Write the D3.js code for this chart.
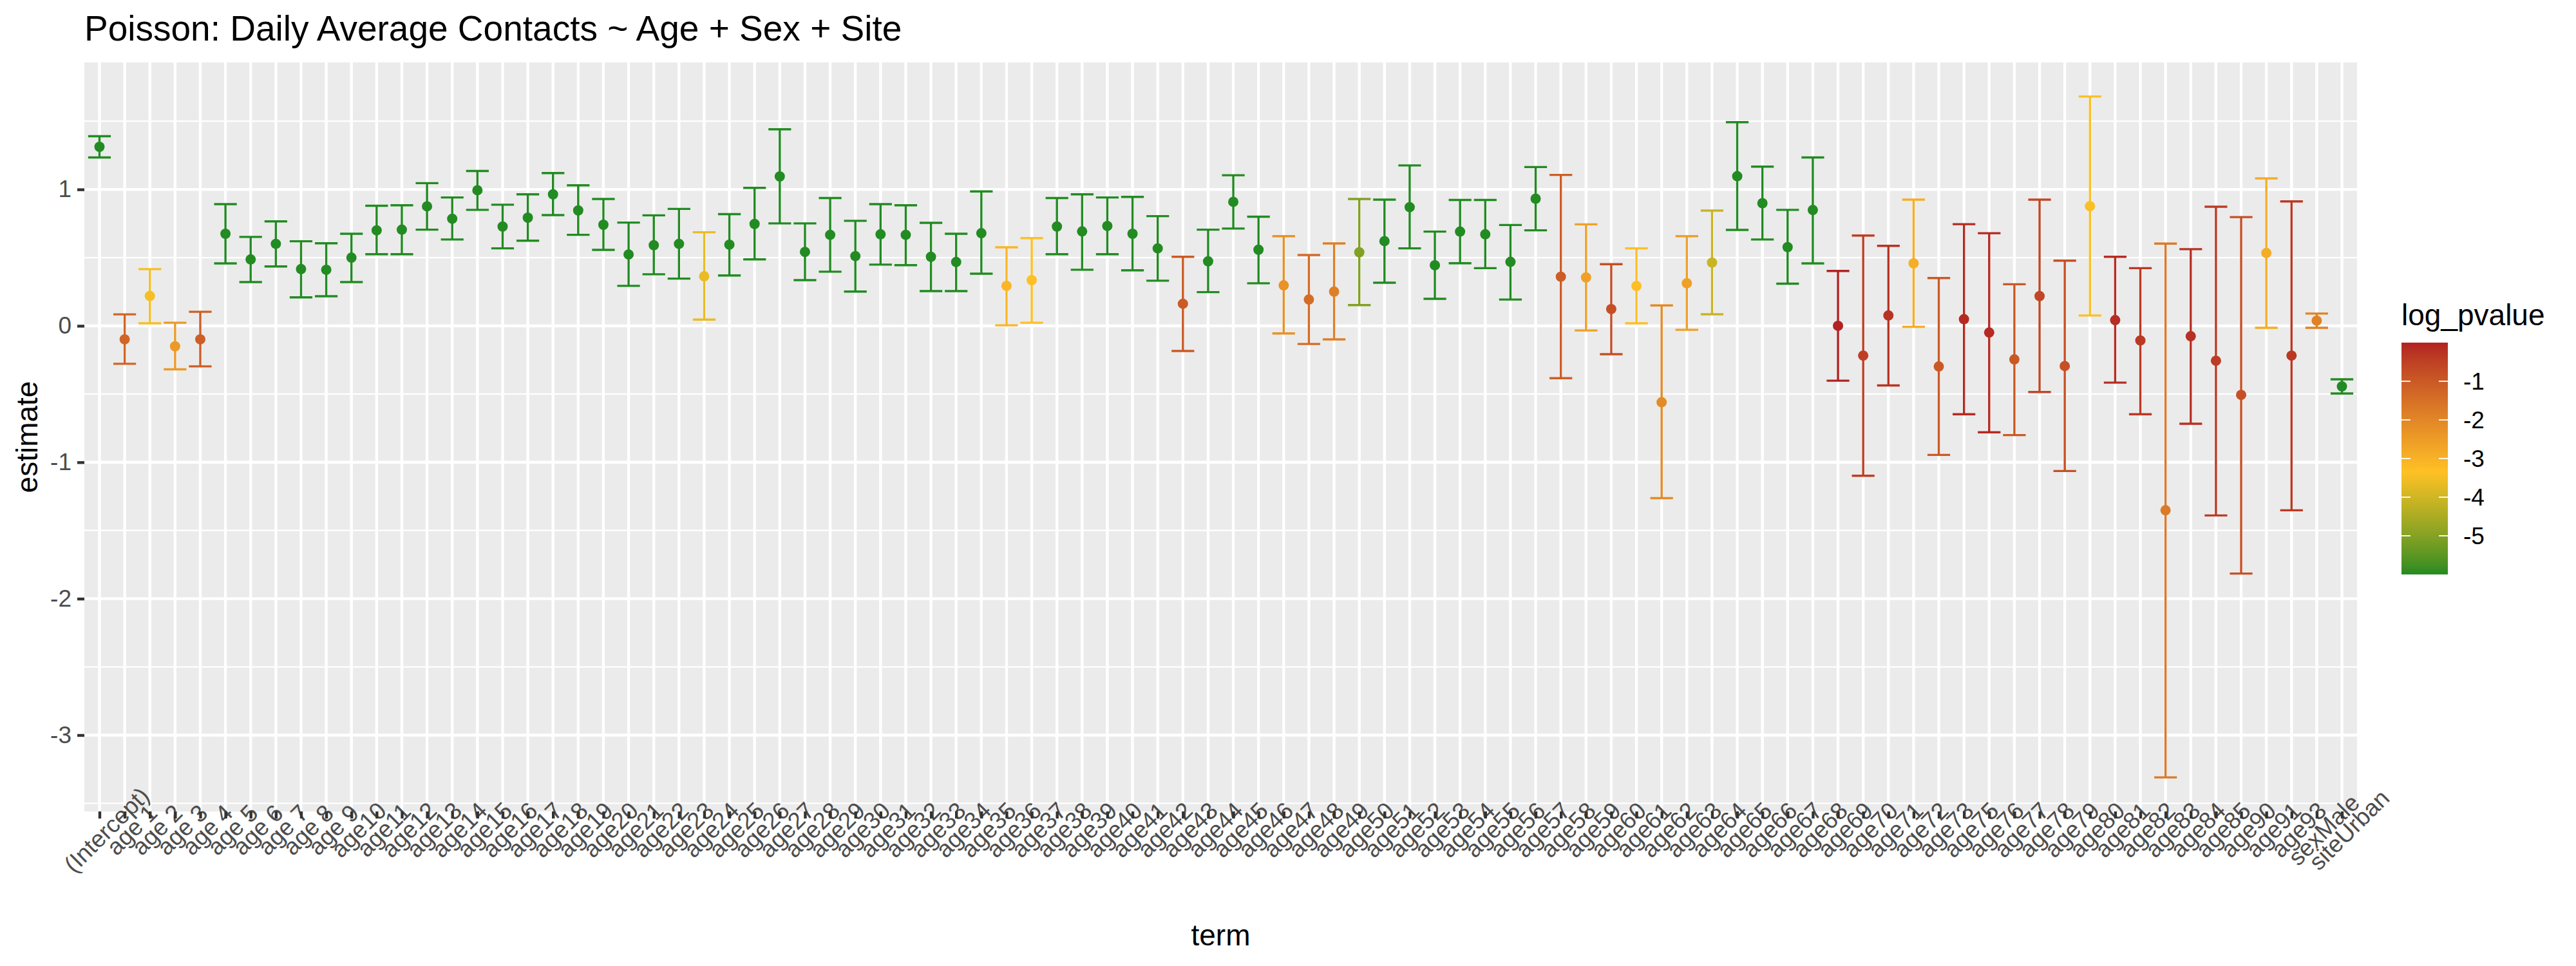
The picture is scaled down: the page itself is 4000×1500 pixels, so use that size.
<!DOCTYPE html>
<html>
<head>
<meta charset="utf-8">
<script src="https://cdn.jsdelivr.net/npm/d3@7"></script>
<style>
  body { margin: 0; background: #fff; }
  svg { display: block; font-family: "Liberation Sans", Arial, sans-serif; }
</style>
</head>
<body>
<div id="chart"></div>
<script>
var terms = ["(Intercept)", "age 1", "age 2", "age 3", "age 4", "age 5", "age 6", "age 7", "age 8", "age 9",
    "age10", "age11", "age12", "age13", "age14", "age15", "age16", "age17", "age18", "age19",
    "age20", "age21", "age22", "age23", "age24", "age25", "age26", "age27", "age28", "age29",
    "age30", "age31", "age32", "age33", "age34", "age35", "age36", "age37", "age38", "age39",
    "age40", "age41", "age42", "age43", "age44", "age45", "age46", "age47", "age48", "age49",
    "age50", "age51", "age52", "age53", "age54", "age55", "age56", "age57", "age58", "age59",
    "age60", "age61", "age62", "age63", "age64", "age65", "age66", "age67", "age68", "age69",
    "age70", "age71", "age72", "age73", "age75", "age76", "age77", "age78", "age79", "age80",
    "age81", "age82", "age83", "age84", "age85", "age90", "age91", "age93", "sexMale", "siteUrban"];

var estimates = [1.312, -0.099, 0.219, -0.150, -0.099, 0.675, 0.487, 0.601, 0.416, 0.411,
    0.500, 0.700, 0.705, 0.876, 0.785, 0.994, 0.728, 0.793, 0.964, 0.846,
    0.741, 0.523, 0.591, 0.601, 0.363, 0.595, 0.747, 1.095, 0.542, 0.667,
    0.511, 0.671, 0.667, 0.506, 0.468, 0.679, 0.293, 0.335, 0.728, 0.692,
    0.732, 0.675, 0.568, 0.162, 0.473, 0.909, 0.558, 0.297, 0.193, 0.251,
    0.539, 0.621, 0.870, 0.444, 0.691, 0.671, 0.469, 0.932, 0.360, 0.355,
    0.123, 0.292, -0.560, 0.312, 0.464, 1.097, 0.899, 0.577, 0.849, 0.000,
    -0.218, 0.076, 0.458, -0.298, 0.049, -0.049, -0.246, 0.218, -0.295, 0.877,
    0.042, -0.107, -1.352, -0.076, -0.256, -0.506, 0.534, -0.218, 0.038, -0.444];

var lowers = [1.234, -0.278, 0.019, -0.319, -0.297, 0.458, 0.321, 0.435, 0.209, 0.217,
    0.321, 0.525, 0.525, 0.705, 0.633, 0.850, 0.568, 0.624, 0.812, 0.667,
    0.557, 0.293, 0.378, 0.346, 0.046, 0.369, 0.487, 0.751, 0.335, 0.397,
    0.251, 0.449, 0.445, 0.255, 0.255, 0.382, 0.004, 0.023, 0.525, 0.411,
    0.525, 0.407, 0.331, -0.184, 0.247, 0.713, 0.312, -0.056, -0.133, -0.099,
    0.152, 0.316, 0.568, 0.198, 0.459, 0.423, 0.193, 0.700, -0.384, -0.034,
    -0.208, 0.019, -1.263, -0.029, 0.085, 0.703, 0.633, 0.309, 0.458, -0.402,
    -1.099, -0.437, -0.007, -0.946, -0.648, -0.780, -0.801, -0.485, -1.064, 0.076,
    -0.416, -0.648, -3.310, -0.718, -1.390, -1.816, -0.014, -1.352, -0.014, -0.496];

var uppers = [1.390, 0.084, 0.416, 0.023, 0.103, 0.892, 0.652, 0.766, 0.620, 0.605,
    0.675, 0.880, 0.884, 1.046, 0.941, 1.135, 0.888, 0.964, 1.120, 1.030,
    0.930, 0.757, 0.810, 0.857, 0.686, 0.819, 1.011, 1.441, 0.751, 0.937,
    0.770, 0.892, 0.884, 0.755, 0.675, 0.985, 0.576, 0.643, 0.937, 0.964,
    0.941, 0.945, 0.804, 0.506, 0.705, 1.104, 0.800, 0.657, 0.519, 0.604,
    0.930, 0.925, 1.176, 0.691, 0.923, 0.923, 0.739, 1.164, 1.106, 0.744,
    0.452, 0.568, 0.150, 0.657, 0.845, 1.493, 1.167, 0.850, 1.234, 0.402,
    0.662, 0.586, 0.925, 0.350, 0.745, 0.679, 0.305, 0.925, 0.478, 1.681,
    0.506, 0.423, 0.603, 0.562, 0.873, 0.797, 1.081, 0.912, 0.090, -0.392];

var logPvalues = [-6, -1.26, -3.47, -2.44, -1.10, -6, -6, -6, -6, -6,
    -6, -6, -6, -6, -6, -6, -6, -6, -6, -6,
    -6, -6, -6, -6, -3.66, -6, -6, -6, -6, -6,
    -6, -6, -6, -6, -6, -6, -3.09, -3.38, -6, -6,
    -6, -6, -6, -1.02, -6, -6, -6, -2.27, -1.40, -1.83,
    -5.03, -6, -6, -6, -6, -6, -6, -6, -1.08, -2.61,
    -0.77, -3.29, -2.11, -2.59, -4.08, -6, -6, -6, -6, -0.005,
    -0.47, -0.26, -2.92, -0.99, -0.12, -0.10, -0.96, -0.62, -0.80, -3.43,
    -0.15, -0.36, -1.72, -0.20, -0.41, -0.80, -2.88, -0.35, -1.89, -6];

var yMajorTicks = [-3, -2, -1, 0, 1];
var yMinorTicks = [-3.5, -2.5, -1.5, -0.5, 0.5, 1.5];
var legendTicks = [-1, -2, -3, -4, -5];
var colourStops = [-6, -3.35, 0];
var colourValues = ["#228B22", "#FFC125", "#B22222"];

var rows = terms.map(function (t, i) {
    return { term: t, estimate: estimates[i], lower: lowers[i], upper: uppers[i], logp: logPvalues[i] };
});

var width = 4000, height = 1500;
var panel = { left: 131, right: 3660, top: 97, bottom: 1260 };
var textGrey = '#4D4D4D';

var svg = d3.select('#chart').append('svg')
    .attr('width', width)
    .attr('height', height);

var x = d3.scalePoint()
    .domain(terms)
    .range([panel.left, panel.right])
    .padding(0.6);

var yMin = d3.min(lowers), yMax = d3.max(uppers);
var pad = (yMax - yMin) * 0.05;
var y = d3.scaleLinear()
    .domain([yMin - pad, yMax + pad])
    .range([panel.bottom, panel.top]);

var colour = d3.scaleLinear()
    .domain(colourStops)
    .range(colourValues)
    .interpolate(d3.interpolateLab)
    .clamp(true);

// panel + grid
svg.append('rect')
    .attr('x', panel.left).attr('y', panel.top)
    .attr('width', panel.right - panel.left)
    .attr('height', panel.bottom - panel.top)
    .attr('fill', '#EBEBEB');

svg.append('g').selectAll('line').data(yMinorTicks).enter().append('line')
    .attr('x1', panel.left).attr('x2', panel.right)
    .attr('y1', function (d) { return y(d); }).attr('y2', function (d) { return y(d); })
    .attr('stroke', '#fff').attr('stroke-width', 2.2);

svg.append('g').selectAll('line').data(yMajorTicks).enter().append('line')
    .attr('x1', panel.left).attr('x2', panel.right)
    .attr('y1', function (d) { return y(d); }).attr('y2', function (d) { return y(d); })
    .attr('stroke', '#fff').attr('stroke-width', 4.4);

svg.append('g').selectAll('line').data(terms).enter().append('line')
    .attr('x1', function (d) { return x(d); }).attr('x2', function (d) { return x(d); })
    .attr('y1', panel.top).attr('y2', panel.bottom)
    .attr('stroke', '#fff').attr('stroke-width', 4.4);

// error bars
var capHalf = x.step() * 0.45;
var bars = svg.append('g').selectAll('g').data(rows).enter().append('g')
    .attr('stroke', function (d) { return colour(d.logp); })
    .attr('stroke-width', 3.4);

bars.append('line')
    .attr('x1', function (d) { return x(d.term); }).attr('x2', function (d) { return x(d.term); })
    .attr('y1', function (d) { return y(d.lower); }).attr('y2', function (d) { return y(d.upper); });

bars.append('line')
    .attr('x1', function (d) { return x(d.term) - capHalf; }).attr('x2', function (d) { return x(d.term) + capHalf; })
    .attr('y1', function (d) { return y(d.upper); }).attr('y2', function (d) { return y(d.upper); });

bars.append('line')
    .attr('x1', function (d) { return x(d.term) - capHalf; }).attr('x2', function (d) { return x(d.term) + capHalf; })
    .attr('y1', function (d) { return y(d.lower); }).attr('y2', function (d) { return y(d.lower); });

svg.append('g').selectAll('circle').data(rows).enter().append('circle')
    .attr('cx', function (d) { return x(d.term); })
    .attr('cy', function (d) { return y(d.estimate); })
    .attr('r', 8)
    .attr('fill', function (d) { return colour(d.logp); });

// axes
var yAxis = svg.append('g')
    .attr('transform', 'translate(' + panel.left + ',0)')
    .call(d3.axisLeft(y).tickValues(yMajorTicks).tickSize(11).tickPadding(9).tickFormat(d3.format('d')));
yAxis.select('.domain').remove();
yAxis.selectAll('line').attr('stroke', '#333333').attr('stroke-width', 4.4);
yAxis.selectAll('text')
    .attr('font-size', 37).attr('fill', textGrey)
    .attr('font-family', '"Liberation Sans", Arial, sans-serif')
    .text(function (d) { return d < 0 ? '-' + Math.abs(d) : d; });

var xAxis = svg.append('g')
    .attr('transform', 'translate(0,' + panel.bottom + ')')
    .call(d3.axisBottom(x).tickSize(11).tickPadding(0));
xAxis.select('.domain').remove();
xAxis.selectAll('line').attr('stroke', '#333333').attr('stroke-width', 4.4);
xAxis.selectAll('text')
    .attr('font-size', 37).attr('fill', textGrey)
    .attr('font-family', '"Liberation Sans", Arial, sans-serif')
    .attr('x', 0).attr('y', 0).attr('dy', '0.75em')
    .attr('text-anchor', 'middle')
    .attr('transform', 'translate(0,18) rotate(-45)')
    .style('white-space', 'pre');

// titles
svg.append('text')
    .attr('x', panel.left).attr('y', 63)
    .attr('font-size', 55).attr('fill', '#000')
    .text('Poisson: Daily Average Contacts ~ Age + Sex + Site');

svg.append('text')
    .attr('x', (panel.left + panel.right) / 2).attr('y', 1468)
    .attr('text-anchor', 'middle')
    .attr('font-size', 46).attr('fill', '#000')
    .text('term');

svg.append('text')
    .attr('transform', 'translate(58,' + (panel.top + panel.bottom) / 2 + ') rotate(-90)')
    .attr('text-anchor', 'middle')
    .attr('font-size', 46).attr('fill', '#000')
    .text('estimate');

// legend
var legend = { x: 3729, top: 532, w: 72, h: 360 };
var lScale = d3.scaleLinear()
    .domain([0, -6])
    .range([legend.top, legend.top + legend.h]);

var grad = svg.append('defs').append('linearGradient')
    .attr('id', 'lgrad')
    .attr('x1', 0).attr('y1', 0).attr('x2', 0).attr('y2', 1);
grad.selectAll('stop').data(d3.range(0, 61)).enter().append('stop')
    .attr('offset', function (d) { return (d / 60 * 100) + '%'; })
    .attr('stop-color', function (d) { return colour(lScale.invert(legend.top + d / 60 * legend.h)); });

svg.append('text')
    .attr('x', legend.x).attr('y', 505)
    .attr('font-size', 46).attr('fill', '#000')
    .text('log_pvalue');

svg.append('rect')
    .attr('x', legend.x).attr('y', legend.top)
    .attr('width', legend.w).attr('height', legend.h)
    .attr('fill', 'url(#lgrad)');

var lt = svg.append('g').selectAll('g').data(legendTicks).enter().append('g');
lt.append('line')
    .attr('x1', legend.x).attr('x2', legend.x + 14)
    .attr('y1', function (d) { return lScale(d); }).attr('y2', function (d) { return lScale(d); })
    .attr('stroke', '#fff').attr('stroke-width', 1.8);
lt.append('line')
    .attr('x1', legend.x + legend.w - 14).attr('x2', legend.x + legend.w)
    .attr('y1', function (d) { return lScale(d); }).attr('y2', function (d) { return lScale(d); })
    .attr('stroke', '#fff').attr('stroke-width', 1.8);
lt.append('text')
    .attr('x', legend.x + legend.w + 24)
    .attr('y', function (d) { return lScale(d); })
    .attr('dy', '0.36em')
    .attr('font-size', 37).attr('fill', '#000')
    .text(function (d) { return '-' + Math.abs(d); });
</script>
</body>
</html>
